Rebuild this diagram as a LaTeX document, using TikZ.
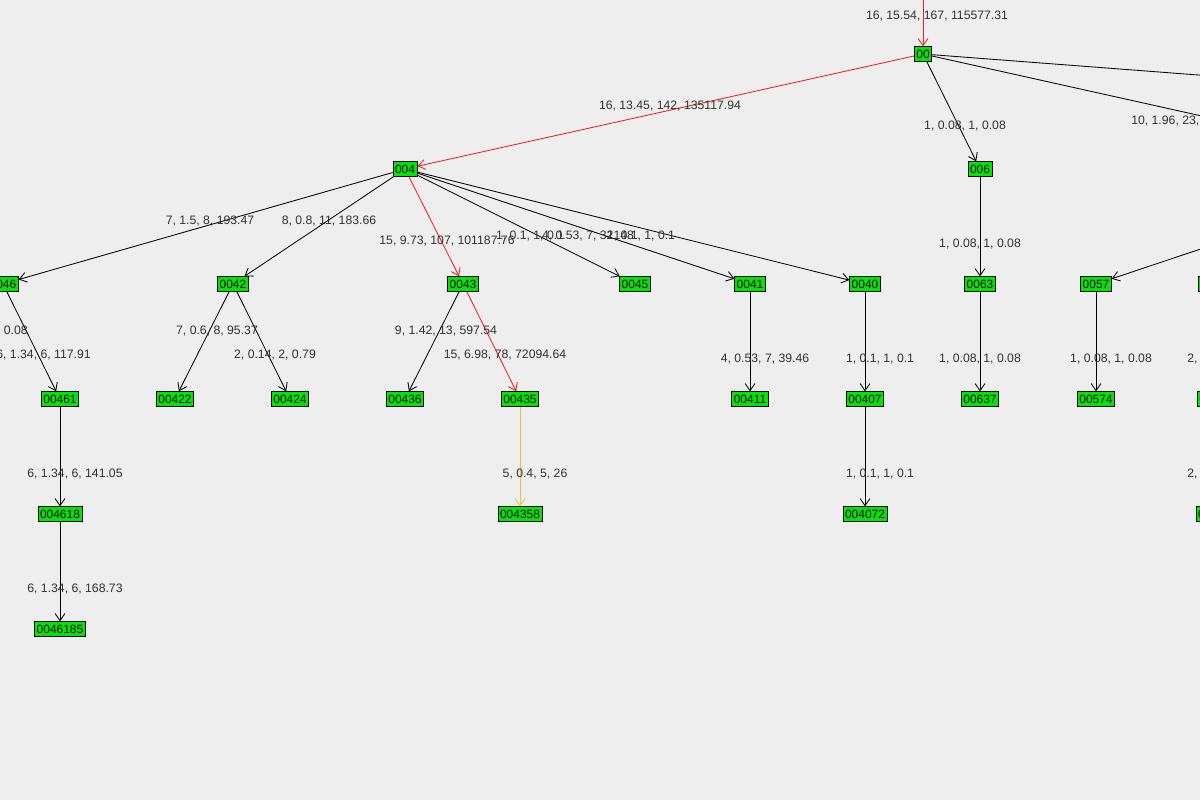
\documentclass[tikz,border=0pt]{standalone}
\usepackage{fontspec}
\setmainfont{Liberation Sans}
\usetikzlibrary{arrows.meta}
\definecolor{bg}{RGB}{238,238,238}
\definecolor{nodegreen}{RGB}{0,230,0}
\definecolor{hotred}{RGB}{235,30,30}
\definecolor{warmorange}{RGB}{245,190,60}
\definecolor{labelgray}{RGB}{50,50,50}
\tikzset{
  vertex/.style={draw=black, fill=nodegreen, inner sep=1.5pt, minimum height=10.5pt, font=\fontsize{8.5}{9}\selectfont},
  edge/.style={draw=black, -{Straight Barb[length=5pt,width=7pt]}, semithick},
  hot/.style={edge, draw=hotred},
  warm/.style={edge, draw=warmorange},
  weight/.style={text=labelgray, font=\fontsize{8.7}{10}\selectfont, inner sep=0pt}
}
\begin{document}
\begin{tikzpicture}[x=0.025cm, y=-0.025cm]
  \fill[bg] (0,0) rectangle (1200,800);
  \useasboundingbox (0,0) rectangle (1200,800);
  \clip (0,0) rectangle (1200,800);

  % nodes
  \coordinate (root) at (923,-60);
  \node[vertex] (n00) at (923,54) {00};
  \node[vertex] (n004) at (405,169) {004};
  \node[vertex] (n006) at (980,169) {006};
  \node[vertex] (n005) at (1440,169) {005};
  \node[vertex] (n007) at (2430,169) {007};
  \node[vertex] (n0046) at (3,284) {0046};
  \node[vertex] (n0042) at (233,284) {0042};
  \node[vertex] (n0043) at (463,284) {0043};
  \node[vertex] (n0045) at (635,284) {0045};
  \node[vertex] (n0041) at (750,284) {0041};
  \node[vertex] (n0040) at (865,284) {0040};
  \node[vertex] (n0063) at (980,284) {0063};
  \node[vertex] (n0057) at (1096,284) {0057};
  \node[vertex] (n0055) at (1214,284) {0055};
  \node[vertex] (n00460) at (-60,399) {00460};
  \node[vertex] (n00461) at (60,399) {00461};
  \node[vertex] (n00422) at (175,399) {00422};
  \node[vertex] (n00424) at (290,399) {00424};
  \node[vertex] (n00436) at (405,399) {00436};
  \node[vertex] (n00435) at (520,399) {00435};
  \node[vertex] (n00411) at (750,399) {00411};
  \node[vertex] (n00407) at (865,399) {00407};
  \node[vertex] (n00637) at (980,399) {00637};
  \node[vertex] (n00574) at (1096,399) {00574};
  \node[vertex] (n00551) at (1216,399) {00551};
  \node[vertex] (n004618) at (60,514) {004618};
  \node[vertex] (n004358) at (520,514) {004358};
  \node[vertex] (n004072) at (865,514) {004072};
  \node[vertex] (n005512) at (1218,514) {005512};
  \node[vertex] (n0046185) at (60,629) {0046185};

  % connectors
  \draw[hot] (root) -- (n00);
  \draw[hot] (n00) -- (n004);
  \draw[edge] (n00) -- (n006);
  \draw[edge] (n00) -- (n005);
  \draw[edge] (n00) -- (n007);
  \draw[edge] (n004) -- (n0046);
  \draw[edge] (n004) -- (n0042);
  \draw[hot] (n004) -- (n0043);
  \draw[edge] (n004) -- (n0045);
  \draw[edge] (n004) -- (n0041);
  \draw[edge] (n004) -- (n0040);
  \draw[edge] (n006) -- (n0063);
  \draw[edge] (n005) -- (n0057);
  \draw[edge] (n005) -- (n0055);
  \draw[edge] (n0046) -- (n00460);
  \draw[edge] (n0046) -- (n00461);
  \draw[edge] (n0042) -- (n00422);
  \draw[edge] (n0042) -- (n00424);
  \draw[edge] (n0043) -- (n00436);
  \draw[hot] (n0043) -- (n00435);
  \draw[edge] (n0041) -- (n00411);
  \draw[edge] (n0040) -- (n00407);
  \draw[edge] (n0063) -- (n00637);
  \draw[edge] (n0057) -- (n00574);
  \draw[edge] (n0055) -- (n00551);
  \draw[edge] (n00461) -- (n004618);
  \draw[warm] (n00435) -- (n004358);
  \draw[edge] (n00407) -- (n004072);
  \draw[edge] (n00551) -- (n005512);
  \draw[edge] (n004618) -- (n0046185);

  % edge weights
  \node[weight] (w1) at (937,16) {16, 15.54, 167, 115577.31};
  \node[weight] (w2) at (670,106) {16, 13.45, 142, 135117.94};
  \node[weight] (w3) at (965,126) {1, 0.08, 1, 0.08};
  \node[weight, anchor=west] (w4) at (1131,121) {10, 1.96, 23, 419.57};
  \node[weight] (w5) at (210,221) {7, 1.5, 8, 193.47};
  \node[weight] (w6) at (329,221) {8, 0.8, 11, 183.66};
  \node[weight] (w7) at (447,241) {15, 9.73, 107, 101187.76};
  \node[weight] (w8) at (530,236) {1, 0.1, 1, 0.1};
  \node[weight] (w9) at (588,236) {4, 0.53, 7, 32148};
  \node[weight] (w10) at (641,236) {1, 0.1, 1, 0.1};
  \node[weight] (w11) at (980,244) {1, 0.08, 1, 0.08};
  \node[weight, anchor=east] (w12) at (28,331) {1, 0.08, 1, 0.08};
  \node[weight, anchor=east] (w13) at (91,355) {6, 1.34, 6, 117.91};
  \node[weight] (w14) at (217,331) {7, 0.6, 8, 95.37};
  \node[weight] (w15) at (275,355) {2, 0.14, 2, 0.79};
  \node[weight] (w16) at (446,331) {9, 1.42, 13, 597.54};
  \node[weight] (w17) at (505,355) {15, 6.98, 78, 72094.64};
  \node[weight] (w18) at (765,359) {4, 0.53, 7, 39.46};
  \node[weight] (w19) at (880,359) {1, 0.1, 1, 0.1};
  \node[weight] (w20) at (980,359) {1, 0.08, 1, 0.08};
  \node[weight] (w21) at (1111,359) {1, 0.08, 1, 0.08};
  \node[weight, anchor=west] (w22) at (1187,359) {2, 0.14, 2, 0.79};
  \node[weight] (w23) at (75,474) {6, 1.34, 6, 141.05};
  \node[weight] (w24) at (535,474) {5, 0.4, 5, 26};
  \node[weight] (w25) at (880,474) {1, 0.1, 1, 0.1};
  \node[weight, anchor=west] (w26) at (1187,474) {2, 0.14, 2, 0.79};
  \node[weight] (w27) at (75,589) {6, 1.34, 6, 168.73};
\end{tikzpicture}
\end{document}
